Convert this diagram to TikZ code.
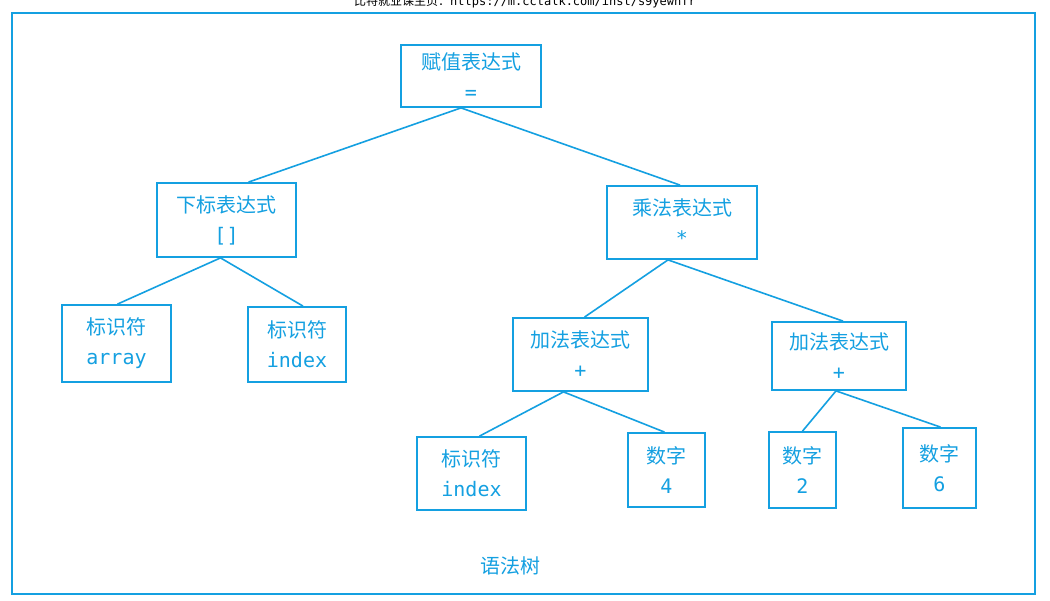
\documentclass[tikz,border=0pt]{standalone}
\usepackage{fontspec}
\setmainfont{DejaVu Sans Mono}
\newfontfamily\cjk{Noto Sans CJK SC}
\definecolor{cy}{RGB}{20,160,225}
\begin{document}
\begin{tikzpicture}[x=1pt,y=-1pt,
 box/.style={draw=cy,line width=1.8pt,text=cy,font=\fontsize{20}{30}\selectfont,align=center,inner sep=0pt},
 ln/.style={draw=cy,line width=1.6pt}]
\useasboundingbox (0,0) rectangle (1050,601);
\fill[white] (0,0) rectangle (1050,601);
\node[font=\fontsize{12}{12}\selectfont\cjk] at (525,2) {比特就业课主页：\fontspec{DejaVu Sans Mono}https://m.cctalk.com/inst/s9yewhfr};
\draw[cy,line width=1.8pt] (12,13) rectangle (1035,594);
\node[box,minimum width=140,minimum height=62] (root) at (471,76) {{\cjk 赋值表达式}\\=};
\node[box,minimum width=139,minimum height=74] (sub) at (226.5,220) {{\cjk 下标表达式}\\{[]}};
\node[box,minimum width=150,minimum height=73] (mul) at (682,222.5) {{\cjk 乘法表达式}\\*};
\node[box,minimum width=109,minimum height=77] (a1) at (116.5,343.5) {{\cjk 标识符}\\array};
\node[box,minimum width=98,minimum height=75] (a2) at (297,344.5) {{\cjk 标识符}\\index};
\node[box,minimum width=135,minimum height=73] (p1) at (580.5,354.5) {{\cjk 加法表达式}\\+};
\node[box,minimum width=134,minimum height=68] (p2) at (839,356) {{\cjk 加法表达式}\\+};
\node[box,minimum width=109,minimum height=73] (i3) at (471.5,473.5) {{\cjk 标识符}\\index};
\node[box,minimum width=77,minimum height=74] (n4) at (666.5,470) {{\cjk 数字}\\4};
\node[box,minimum width=67,minimum height=76] (n2) at (802.5,470) {{\cjk 数字}\\2};
\node[box,minimum width=73,minimum height=80] (n6) at (939.5,468) {{\cjk 数字}\\6};
\node[text=cy,font=\fontsize{20}{20}\selectfont\cjk] (t) at (510,566) {语法树};
\draw[ln] ([xshift=-10]root.south) -- ([xshift=22]sub.north);
\draw[ln] ([xshift=-10]root.south) -- ([xshift=-2]mul.north);
\draw[ln] ([xshift=-6]sub.south) -- ([xshift=1]a1.north);
\draw[ln] ([xshift=-6]sub.south) -- ([xshift=6]a2.north);
\draw[ln] ([xshift=-14]mul.south) -- ([xshift=4]p1.north);
\draw[ln] ([xshift=-14]mul.south) -- ([xshift=4]p2.north);
\draw[ln] ([xshift=-17]p1.south) -- ([xshift=8]i3.north);
\draw[ln] ([xshift=-17]p1.south) -- ([xshift=-2]n4.north);
\draw[ln] ([xshift=-3]p2.south) -- ([xshift=0]n2.north);
\draw[ln] ([xshift=-3]p2.south) -- ([xshift=1]n6.north);
\end{tikzpicture}
\end{document}
